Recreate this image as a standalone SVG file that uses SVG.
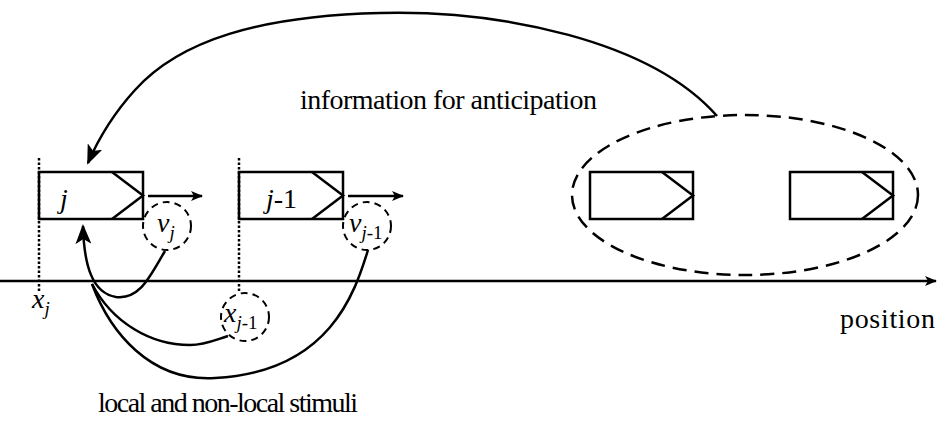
<svg xmlns="http://www.w3.org/2000/svg" width="943" height="421" viewBox="0 0 943 421">
<text x="300" y="109" font-family="Liberation Serif" font-size="28" textLength="297" lengthAdjust="spacing">information for anticipation</text>
<text x="98" y="412" font-family="Liberation Serif" font-size="28" textLength="260" lengthAdjust="spacing">local and non-local stimuli</text>
<text x="840" y="328" font-family="Liberation Serif" font-size="28" textLength="95" lengthAdjust="spacing">position</text>
<text x="32" y="308" font-family="Liberation Serif" font-size="28" font-style="italic">x<tspan font-size="19" dy="7">j</tspan></text>
<text x="60" y="208" font-family="Liberation Serif" font-size="28" font-style="italic">j</text>
<text x="266" y="208" font-family="Liberation Serif" font-size="28"><tspan font-style="italic">j</tspan>-1</text>
<text x="157" y="232" font-family="Liberation Serif" font-size="28" font-style="italic">v<tspan font-size="19" dy="7">j</tspan></text>
<text x="349" y="232" font-family="Liberation Serif" font-size="28" font-style="italic">v<tspan font-size="19" dy="7">j</tspan><tspan font-size="19" font-style="normal">-1</tspan></text>
<text x="224" y="322" font-family="Liberation Serif" font-size="28" font-style="italic">x<tspan font-size="19" dy="7">j</tspan><tspan font-size="19" font-style="normal">-1</tspan></text>
<defs>
<marker id="ah" markerWidth="12" markerHeight="10" refX="11" refY="5" orient="auto" markerUnits="userSpaceOnUse"><path d="M0,0 L12,5 L0,10 L3,5 Z" fill="#000"/></marker>
<marker id="ah2" markerWidth="20" markerHeight="16" refX="18" refY="8" orient="auto" markerUnits="userSpaceOnUse"><path d="M0,0 L20,8 L0,16 L5,8 Z" fill="#000"/></marker>
</defs>
<g fill="none" stroke="#000" stroke-width="2.5">
<g id="axis">
<line x1="0" y1="281" x2="936" y2="281" marker-end="url(#ah)"/>
</g>
<g id="markers" stroke-dasharray="2.5,2">
<line x1="39" y1="158" x2="39" y2="292"/>
<line x1="239" y1="158" x2="239" y2="293"/>
</g>
<g id="car-j">
<rect x="39" y="172" width="104" height="47"/>
<polyline points="112,172 143,195.5 112,219"/>
<line x1="148" y1="196" x2="202" y2="196" marker-end="url(#ah)"/>
</g>
<g id="car-j1">
<rect x="239" y="172" width="104" height="47"/>
<polyline points="312,172 343,195.5 312,219"/>
<line x1="348" y1="196" x2="403" y2="196" marker-end="url(#ah)"/>
</g>
<g id="circles" stroke-width="2" stroke-dasharray="7,5">
<circle id="v-j" cx="167" cy="226" r="24"/>
<circle id="v-j1" cx="367" cy="226" r="24"/>
<circle id="x-j1" cx="245" cy="317" r="24"/>
</g>
<g id="group-ahead">
<ellipse cx="745" cy="195" rx="173" ry="80" stroke-dasharray="14,8"/>
<rect x="590" y="172" width="103" height="47"/>
<polyline points="662,172 693,195.5 662,219"/>
<rect x="790" y="172" width="103" height="47"/>
<polyline points="862,172 893,195.5 862,219"/>
</g>
<g id="connectors">
<path d="M717,116 C650,40 500,10 380,13 C260,16 180,40 135,90 C115,112 100,135 88,163" marker-end="url(#ah2)"/>
<path d="M165,251 C150,276 140,300 116,297 C92,293 84,265 83,226" marker-end="url(#ah2)"/>
<path d="M92,284 C112,322 150,345 190,345 C205,345 215,340 228,336"/>
<path d="M368,250 C355,292 330,372 215,378 C150,382 110,332 92,284"/>
</g>
</g>
</svg>
